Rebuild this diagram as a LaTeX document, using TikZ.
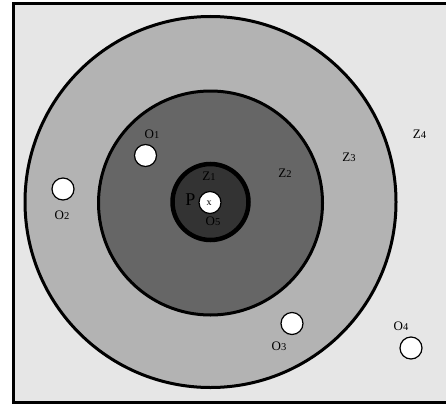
\documentclass[tikz,border=0pt]{standalone}
\usepackage{fontspec}
\setmainfont{Liberation Serif}
\definecolor{bgc}{HTML}{E6E6E6}
\definecolor{zthree}{HTML}{B3B3B3}
\definecolor{ztwo}{HTML}{666666}
\definecolor{zone}{HTML}{333333}
\newcommand{\lbl}[2]{{\fontsize{13}{13}\selectfont #1}{\fontsize{10.5}{10.5}\selectfont #2}}
\begin{document}
\begin{tikzpicture}[x=1pt,y=-1pt,
  zone/.style={circle, draw=black, inner sep=0pt, outer sep=0pt},
  obj/.style={circle, draw=black, fill=white, line width=1.2pt, minimum size=22pt, inner sep=0pt},
  lab/.style={anchor=base, inner sep=0pt, text=black}]
\useasboundingbox (0,0) rectangle (446,404);
\fill[white] (0,0) rectangle (446,404);
\node[draw=black, fill=bgc, line width=3pt, inner sep=0pt, outer sep=0pt, anchor=north west, minimum width=450pt, minimum height=398pt] (frame) at (13.5,4) {};
\node[zone, fill=zthree, line width=3pt, minimum size=371pt] (z3) at (210.5,202) {};
\node[zone, fill=ztwo, line width=3pt, minimum size=224pt] (z2) at (210.5,203) {};
\node[zone, fill=zone, line width=4.5pt, minimum size=76pt] (z1) at (210.5,202) {};
\node[obj] (o5) at (210,202.5) {};
\node[obj] (o1) at (145.5,155.5) {};
\node[obj] (o2) at (63,189) {};
\node[obj] (o3) at (292,323.5) {};
\node[obj] (o4) at (411,348) {};
\node[lab] (lo1) at (152,138) {\lbl{O}{1}};
\node[lab] (lo2) at (62,219) {\lbl{O}{2}};
\node[lab] (lo3) at (279,350.7) {\lbl{O}{3}};
\node[lab] (lo4) at (401,330) {\lbl{O}{4}};
\node[lab] (lo5) at (213,225) {\lbl{O}{5}};
\node[lab] (lz1) at (209,180.7) {\lbl{Z}{1}};
\node[lab] (lz2) at (285,177) {\lbl{Z}{2}};
\node[lab] (lz3) at (349,161.7) {\lbl{Z}{3}};
\node[lab] (lz4) at (419.5,138) {\lbl{Z}{4}};
\node[lab] (lp) at (190.5,205) {\fontsize{18}{18}\selectfont P};
\node[lab] (lx) at (209,205) {\fontsize{10}{10}\selectfont x};
\end{tikzpicture}
\end{document}
